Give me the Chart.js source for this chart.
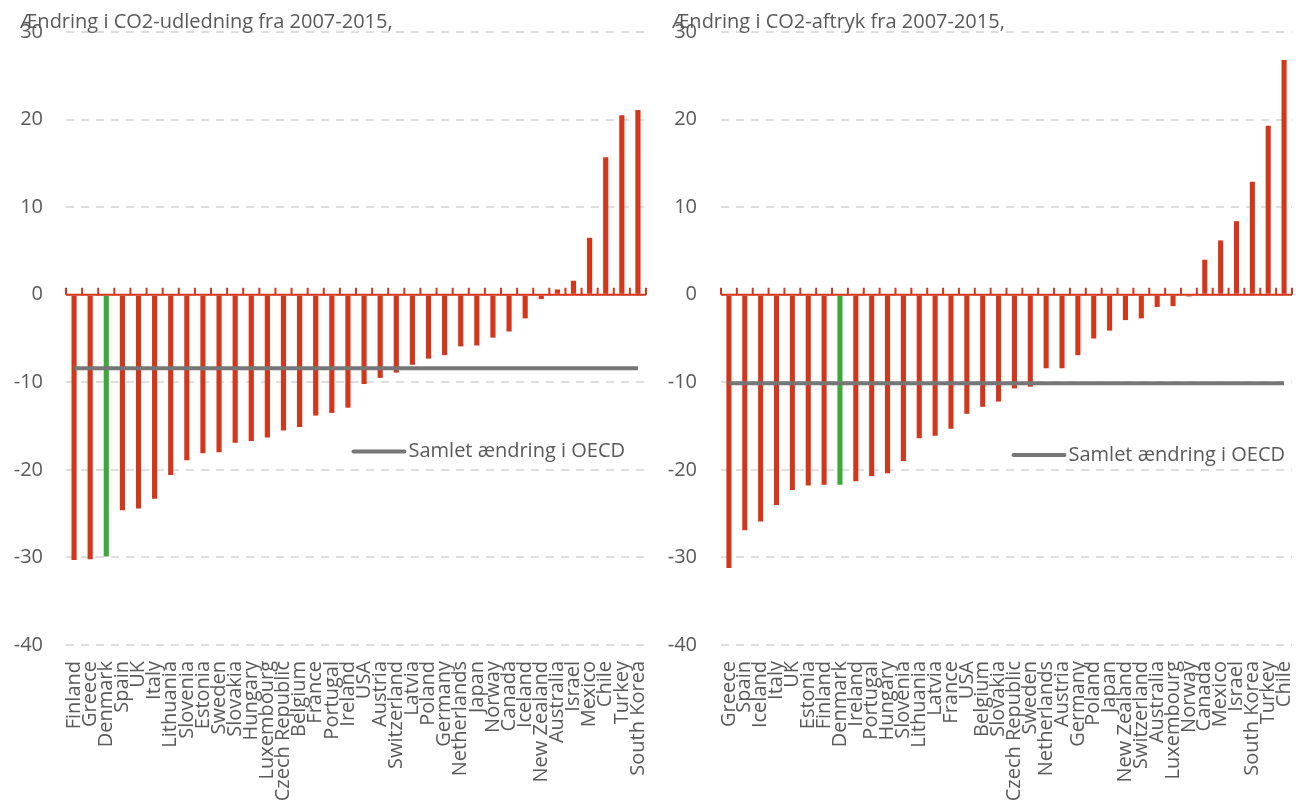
<!DOCTYPE html>
<html>
<head>
<meta charset="utf-8">
<script src="https://cdn.jsdelivr.net/npm/chart.js@4.4.1/dist/chart.umd.min.js"></script>
<style>
  html, body { margin: 0; padding: 0; background: #fff; }
  #wrap { position: relative; width: 1302px; height: 805px; overflow: hidden; }
  .panel { position: absolute; top: 0; width: 651px; height: 805px; }
  #p1 { left: 0; }
  #p2 { left: 651px; }
</style>
</head>
<body>
<div id="wrap">
  <div class="panel" id="p1"><canvas id="udledningChart" width="651" height="805"></canvas></div>
  <div class="panel" id="p2"><canvas id="aftrykChart" width="651" height="805"></canvas></div>
</div>
<script>
// data
const udledningTitle = 'Ændring i CO2-udledning fra 2007-2015,';
const udledningCountries = ['Finland', 'Greece', 'Denmark', 'Spain', 'UK', 'Italy', 'Lithuania', 'Slovenia',
  'Estonia', 'Sweden', 'Slovakia', 'Hungary', 'Luxembourg', 'Czech Republic', 'Belgium', 'France',
  'Portugal', 'Ireland', 'USA', 'Austria', 'Switzerland', 'Latvia', 'Poland', 'Germany', 'Netherlands',
  'Japan', 'Norway', 'Canada', 'Iceland', 'New Zealand', 'Australia', 'Israel', 'Mexico', 'Chile',
  'Turkey', 'South Korea'];
const udledningValues = [-30.3, -30.2, -29.9, -24.6, -24.4, -23.3, -20.6, -18.9, -18.1, -18.0, -16.9, -16.7,
  -16.3, -15.5, -15.1, -13.8, -13.5, -12.9, -10.2, -9.5, -8.9, -8.0, -7.3, -6.9, -5.9, -5.8, -4.9, -4.2,
  -2.7, -0.5, 0.6, 1.6, 6.5, 15.7, 20.5, 21.1];
const udledningOecd = -8.4;

const aftrykTitle = 'Ændring i CO2-aftryk fra 2007-2015,';
const aftrykCountries = ['Greece', 'Spain', 'Iceland', 'Italy', 'UK', 'Estonia', 'Finland', 'Denmark',
  'Ireland', 'Portugal', 'Hungary', 'Slovenia', 'Lithuania', 'Latvia', 'France', 'USA', 'Belgium',
  'Slovakia', 'Czech Republic', 'Sweden', 'Netherlands', 'Austria', 'Germany', 'Poland', 'Japan',
  'New Zealand', 'Switzerland', 'Australia', 'Luxembourg', 'Norway', 'Canada', 'Mexico', 'Israel',
  'South Korea', 'Turkey', 'Chile'];
const aftrykValues = [-31.2, -26.9, -25.9, -24.0, -22.3, -21.8, -21.7, -21.7, -21.3, -20.7, -20.4, -19.0,
  -16.4, -16.1, -15.3, -13.6, -12.8, -12.2, -10.7, -10.5, -8.4, -8.4, -6.9, -5.0, -4.1, -2.9, -2.7, -1.4,
  -1.3, -0.2, 4.0, 6.2, 8.4, 12.9, 19.3, 26.8];
const aftrykOecd = -10.1;

const yTicks = [-40, -30, -20, -10, 0, 10, 20, 30];
const highlight = 'Denmark';
const legendLabel = 'Samlet ændring i OECD';

const RED = '#d3361a';
const GREEN = '#3caa36';
const GREY = '#767676';
const TEXT = '#595959';

Chart.defaults.font.family = "'Open Sans', sans-serif";
Chart.defaults.font.size = 20;
Chart.defaults.color = TEXT;
Chart.defaults.animation = false;

// red zero axis with small tick marks between the categories
const zeroAxis = {
  id: 'zeroAxis',
  afterDatasetsDraw(chart) {
    const {ctx, chartArea} = chart;
    const y0 = chart.scales.y.getPixelForValue(0);
    const n = chart.data.labels.length;
    const step = (chartArea.right - chartArea.left) / n;
    ctx.save();
    ctx.strokeStyle = RED;
    ctx.lineWidth = 2;
    ctx.beginPath();
    ctx.moveTo(chartArea.left, y0);
    ctx.lineTo(chartArea.right, y0);
    for (let i = 0; i <= n; i++) {
      const x = chartArea.left + i * step;
      ctx.moveTo(x, y0);
      ctx.lineTo(x, y0 - 7);
    }
    ctx.stroke();
    ctx.restore();
  }
};

// title text overlapping the top tick label, and the in-plot legend
const panelText = {
  id: 'panelText',
  afterDraw(chart, args, opts) {
    const {ctx, chartArea} = chart;
    ctx.save();
    ctx.font = "20px 'Open Sans', sans-serif";
    ctx.fillStyle = TEXT;
    ctx.textBaseline = 'alphabetic';
    ctx.textAlign = 'left';
    ctx.fillText(opts.title, opts.titleX, 28);

    const y = chart.scales.y.getPixelForValue(opts.legendValue);
    const textRight = chartArea.right - opts.legendRight;
    const w = ctx.measureText(legendLabel).width;
    const textLeft = textRight - w;
    ctx.textBaseline = 'middle';
    ctx.fillText(legendLabel, textLeft, y);
    ctx.strokeStyle = GREY;
    ctx.lineWidth = 4;
    ctx.lineCap = 'round';
    ctx.beginPath();
    ctx.moveTo(textLeft - 55, y);
    ctx.lineTo(textLeft - 4, y);
    ctx.stroke();
    ctx.restore();
  }
};

function makeChart(id, title, countries, values, oecd, o) {
  const ctx = document.getElementById(id).getContext('2d');
  return new Chart(ctx, {
    type: 'bar',
    data: {
      labels: countries,
      datasets: [
        {
          type: 'line',
          label: legendLabel,
          data: countries.map(() => oecd),
          borderColor: GREY,
          borderWidth: 4,
          pointRadius: 0,
          order: 0
        },
        {
          label: title,
          data: values,
          backgroundColor: countries.map(c => c === highlight ? GREEN : RED),
          barPercentage: 0.32,
          categoryPercentage: 1,
          order: 1
        }
      ]
    },
    options: {
      responsive: false,
      layout: {padding: {top: 32, right: o.padRight, left: 0, bottom: 0}},
      scales: {
        x: {
          grid: {display: false, drawTicks: false},
          border: {display: false},
          ticks: {autoSkip: false, minRotation: 90, maxRotation: 90, padding: 16, color: TEXT},
          afterFit: s => {
            s.height = 160;
            s.paddingLeft = 0;
            s.paddingRight = 0;
          }
        },
        y: {
          min: -40,
          max: 30,
          afterBuildTicks: s => { s.ticks = yTicks.map(v => ({value: v})); },
          grid: {color: '#dedede', lineWidth: 2, drawTicks: false},
          border: {display: false, dash: [8, 7]},
          ticks: {padding: o.tickPad, color: TEXT},
          afterFit: s => {
            s.width = o.axisWidth;
            s.paddingTop = 0;
            s.paddingBottom = 0;
          }
        }
      },
      plugins: {
        legend: {display: false},
        tooltip: {enabled: false},
        panelText: {title: title, titleX: o.titleX, legendValue: o.legendValue, legendRight: o.legendRight}
      }
    },
    plugins: [zeroAxis, panelText]
  });
}

makeChart('udledningChart', udledningTitle, udledningCountries, udledningValues, udledningOecd,
  {padRight: 5, axisWidth: 66, tickPad: 23, titleX: 20, legendValue: -17.9, legendRight: 21});
makeChart('aftrykChart', aftrykTitle, aftrykCountries, aftrykValues, aftrykOecd,
  {padRight: 10, axisWidth: 70, tickPad: 24, titleX: 21, legendValue: -18.3, legendRight: 7});
</script>
</body>
</html>
